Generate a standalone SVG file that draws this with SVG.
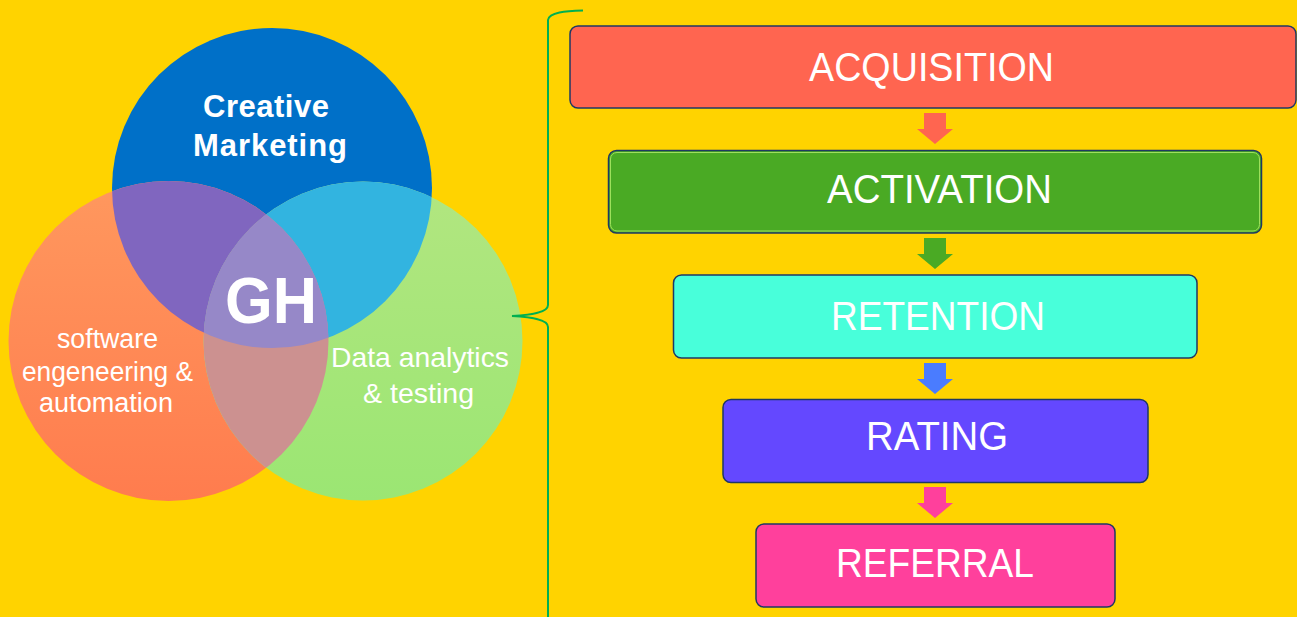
<svg xmlns="http://www.w3.org/2000/svg" width="1297" height="617" viewBox="0 0 1297 617">
  <style>
    .lbl { font-family: "Liberation Sans", Arial, sans-serif; fill: #FFFFFF; }
    .box-text { font-size: 41px; }
    .venn-b { font-weight: bold; font-size: 31px; }
    .venn-r { font-size: 27px; }
    .box { stroke: #1F3864; stroke-width: 1.5; }
  </style>
  <defs>
    <clipPath id="cBlue"><circle cx="272" cy="188" r="160"/></clipPath>
    <clipPath id="cOrange"><circle cx="168.5" cy="341" r="160"/></clipPath>
    <clipPath id="cGreen"><circle cx="363" cy="341" r="159.5"/></clipPath>
    <linearGradient id="gOrange" x1="0" y1="0" x2="0" y2="1">
      <stop offset="0" stop-color="#FF985E"/>
      <stop offset="1" stop-color="#FF7C4E"/>
    </linearGradient>
    <linearGradient id="gGreen" x1="0" y1="0" x2="0" y2="1">
      <stop offset="0" stop-color="#B2E680"/>
      <stop offset="1" stop-color="#9BE673"/>
    </linearGradient>
  </defs>

  <rect x="0" y="0" width="1297" height="617" fill="#FFD300"/>

  <g id="venn">
    <g id="node-marketing">
      <circle cx="272" cy="188" r="160" fill="#0070C8"/>
    </g>
    <g id="node-software">
      <circle cx="168.5" cy="341" r="160" fill="url(#gOrange)"/>
    </g>
    <g id="node-data">
      <circle cx="363" cy="341" r="159.5" fill="url(#gGreen)"/>
    </g>
    <g id="overlaps">
      <circle cx="168.5" cy="341" r="160" fill="#8066BF" clip-path="url(#cBlue)"/>
      <circle cx="363" cy="341" r="159.5" fill="#32B4E0" clip-path="url(#cBlue)"/>
      <circle cx="363" cy="341" r="159.5" fill="#CC9190" clip-path="url(#cOrange)"/>
      <g clip-path="url(#cBlue)">
        <circle cx="363" cy="341" r="159.5" fill="#9688C8" clip-path="url(#cOrange)"/>
      </g>
    </g>
    <g id="venn-labels">
      <text class="lbl venn-b" x="203" y="117" textLength="126" lengthAdjust="spacing">Creative</text>
      <text class="lbl venn-b" x="193" y="156" textLength="154" lengthAdjust="spacing">Marketing</text>
      <text class="lbl" x="225" y="323" font-size="65" font-weight="bold" textLength="92" lengthAdjust="spacingAndGlyphs">GH</text>
      <text class="lbl venn-r" x="57" y="348" textLength="101" lengthAdjust="spacingAndGlyphs">software</text>
      <text class="lbl venn-r" x="22" y="381" textLength="171" lengthAdjust="spacingAndGlyphs">engeneering &amp;</text>
      <text class="lbl venn-r" x="39" y="412" textLength="134" lengthAdjust="spacingAndGlyphs">automation</text>
      <text class="lbl" x="331" y="367" font-size="28" textLength="178" lengthAdjust="spacingAndGlyphs">Data analytics</text>
      <text class="lbl" x="363" y="403" font-size="28" textLength="111" lengthAdjust="spacingAndGlyphs">&amp; testing</text>
    </g>
  </g>

  <g id="node-acquisition">
    <rect class="box" x="570" y="26" width="726" height="82" rx="8" fill="#FF6550"/>
    <text class="lbl box-text" x="809" y="81" textLength="245" lengthAdjust="spacingAndGlyphs">ACQUISITION</text>
  </g>
  <g id="node-activation">
    <rect class="box" x="608.5" y="150.5" width="653" height="82.5" rx="8" fill="#4AAA24"/>
    <rect x="610.5" y="152.5" width="649" height="78.5" rx="6.5" fill="none" stroke="#9EE05C" stroke-width="1"/>
    <text class="lbl box-text" x="827" y="203" textLength="225" lengthAdjust="spacingAndGlyphs">ACTIVATION</text>
  </g>
  <g id="node-retention">
    <rect class="box" x="673.5" y="275" width="523.5" height="83" rx="8" fill="#48FFDA"/>
    <text class="lbl box-text" x="831" y="330" textLength="214" lengthAdjust="spacingAndGlyphs">RETENTION</text>
  </g>
  <g id="node-rating">
    <rect class="box" x="723" y="399.5" width="425" height="83" rx="8" fill="#6448FF"/>
    <text class="lbl box-text" x="866" y="450" textLength="142" lengthAdjust="spacingAndGlyphs">RATING</text>
  </g>
  <g id="node-referral">
    <rect class="box" x="756" y="524" width="359" height="83" rx="8" fill="#FF409C"/>
    <text class="lbl box-text" x="836" y="577" textLength="198" lengthAdjust="spacingAndGlyphs">REFERRAL</text>
  </g>

  <g id="connectors">
    <path d="M583,10.5 C566,11 549,12 548,20 L548,305 C548,313 530,315 512,316 C530,317 548,319 548,327 L548,620" fill="none" stroke="#00B050" stroke-width="2"/>
    <polygon points="924,113 946,113 946,129 953,129 935,144 917,129 924,129" fill="#FF6550"/>
    <polygon points="924,238 946,238 946,254 953,254 935,269 917,254 924,254" fill="#4AAA24"/>
    <polygon points="924,363 946,363 946,379 953,379 935,394 917,379 924,379" fill="#4A7CFF"/>
    <polygon points="924,487 946,487 946,503 953,503 935,518 917,503 924,503" fill="#FF409C"/>
  </g>
</svg>
